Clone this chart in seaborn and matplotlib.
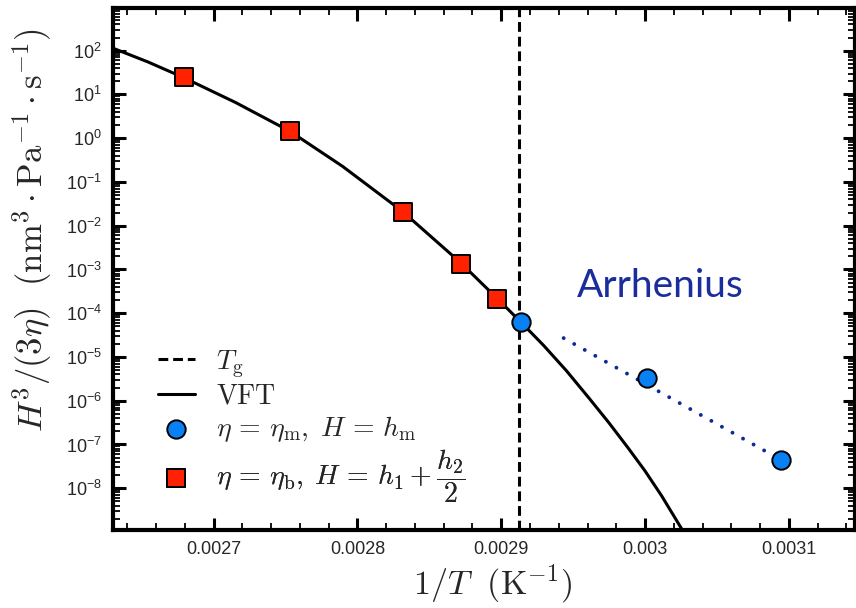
import numpy as np
import matplotlib
matplotlib.use('Agg')
import matplotlib.pyplot as plt
import seaborn as sns
from matplotlib.ticker import FixedLocator, FuncFormatter, LogLocator, NullFormatter
from matplotlib.font_manager import FontProperties

# values
bulk_x = [0.0026793, 0.0027532, 0.0028314, 0.0028721, 0.0028969]
bulk_y = [24.6, 1.49, 0.0204, 1.35e-3, 2.14e-4]

melt_x = [0.0029139, 0.0030015, 0.0030946]
melt_y = [6.3e-5, 3.3e-6, 4.4e-8]

# VFT curve
vft_x = [0.0026300, 0.0026542, 0.0026791, 0.0027153, 0.0027532, 0.0027896,
         0.0028314, 0.0028721, 0.0028969, 0.0029139, 0.0029295, 0.0029453,
         0.0029615, 0.0029748, 0.0029882, 0.0029999, 0.0030115, 0.0030254,
         0.0030312]
vft_y = [114, 55.5, 24.3, 6.53, 1.43, 0.228,
         0.0211, 1.39e-3, 2.22e-4, 6.14e-5, 1.83e-5, 4.86e-6,
         1.10e-6, 3.16e-7, 8.36e-8, 2.51e-8, 6.74e-9, 1.19e-9,
         5.85e-10]

arr_x = [0.0029434, 0.0030835]
arr_y = [2.7e-5, 7.1e-8]

tg = 0.0029121

xticks = [0.0027, 0.0028, 0.0029, 0.0030, 0.0031]
yticks = [1e-8, 1e-7, 1e-6, 1e-5, 1e-4, 1e-3, 1e-2, 1e-1, 1e0, 1e1, 1e2]

sns.set_theme(style='ticks')
plt.rcParams['font.family'] = ['Liberation Sans', 'DejaVu Sans']
plt.rcParams['mathtext.fontset'] = 'custom'
plt.rcParams['mathtext.rm'] = 'Liberation Sans'
plt.rcParams['mathtext.it'] = 'Liberation Sans:italic'
plt.rcParams['mathtext.bf'] = 'Liberation Sans:bold'

fig = plt.figure(figsize=(8.56, 6.08), dpi=100)
ax = fig.add_axes([0.132, 0.128, 0.8668, 0.859])

ax.axvline(tg, color='black', lw=2.2, dashes=(3.2, 1.6), label=r'$T_{\rm g}$', zorder=2)
sns.lineplot(x=vft_x, y=vft_y, ax=ax, color='black', lw=2.2, sort=False,
             label=r'$\mathrm{VFT}$', zorder=3)
ax.plot(arr_x, arr_y, color='#0b2a96', lw=2.8, linestyle=(0, (0.01, 3.1)),
        dash_capstyle='round', zorder=3)
sns.scatterplot(x=melt_x, y=melt_y, ax=ax, marker='o', s=175, color='#0a80f5',
                edgecolor='black', linewidth=1.4, zorder=5,
                label=r'$\eta\,=\,\eta_{\rm m},\; H\,=\,h_{\rm m}$')
sns.scatterplot(x=bulk_x, y=bulk_y, ax=ax, marker='s', s=175, color='#ff2200',
                edgecolor='black', linewidth=1.4, zorder=5,
                label=r'$\eta\,=\,\eta_{\rm b},\; H\,=\,h_1 + \dfrac{h_2}{2}$')

ax.set_yscale('log')
ax.set_xlim(0.00263, 0.003146)
ax.set_ylim(1.1e-9, 9.5e2)

ax.xaxis.set_major_locator(FixedLocator(xticks))
ax.xaxis.set_major_formatter(FuncFormatter(lambda v, p: f'{v:g}'))
ax.xaxis.set_minor_locator(FixedLocator(np.arange(0.00262, 0.00316, 0.00002)))
ax.yaxis.set_major_locator(FixedLocator(yticks))
ax.yaxis.set_major_formatter(FuncFormatter(lambda v, p: r'$10^{%d}$' % round(np.log10(v))))
ax.yaxis.set_minor_locator(LogLocator(base=10, subs=np.arange(2, 10), numticks=30))
ax.yaxis.set_minor_formatter(NullFormatter())

for side in ['left', 'right', 'top', 'bottom']:
    ax.spines[side].set_linewidth(3.0)
    ax.spines[side].set_color('black')
ax.tick_params(which='both', direction='in', top=True, right=True, color='black')
ax.tick_params(which='major', length=9, width=2.2, labelsize=13, pad=8)
ax.tick_params(which='minor', length=5, width=1.3)
ax.set_facecolor('white')

ax.set_ylabel(r'$H^3/(3\eta)\ \ (\mathrm{nm}^3\cdot\mathrm{Pa}^{-1}\cdot\mathrm{s}^{-1})$',
              fontsize=25, math_fontfamily='cm')
ax.yaxis.set_label_coords(-0.08, 0.575)
ax.set_xlabel(r'$1/T\ \ (\mathrm{K}^{-1})$', fontsize=24.5, math_fontfamily='cm')
ax.xaxis.set_label_coords(0.512, -0.062)

ax.text(0.0029525, 2.33e-4, 'Arrhenius', family='Lato', fontsize=28,
        color='#1a2d9c', ha='left', va='baseline')

# one legend box per row so the rows sit evenly like in the reference
handles, labels = ax.get_legend_handles_labels()
ax.get_legend().remove()
row_y = [0.318, 0.255, 0.193, 0.104]
for h, l, yy in zip(handles, labels, row_y):
    leg = ax.legend([h], [l], loc='center left', bbox_to_anchor=(0.0606, yy),
                    frameon=False, prop=FontProperties(size=20, math_fontfamily='cm'),
                    handlelength=1.33, handletextpad=0.75, borderpad=0,
                    borderaxespad=0)
    ax.add_artist(leg)

fig.savefig('out.png', dpi=100, facecolor='white')
